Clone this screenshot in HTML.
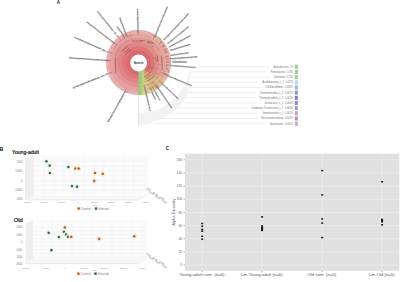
<!DOCTYPE html>
<html><head><meta charset="utf-8">
<style>
html,body{margin:0;padding:0;background:#fff;width:400px;height:282px;overflow:hidden}
svg{display:block;font-family:"Liberation Sans",sans-serif}
</style></head>
<body>
<svg width="400" height="282" viewBox="0 0 400 282">
<rect width="400" height="282" fill="#fff"/>
<text x="56.8" y="4.4" font-size="4.5" font-weight="bold" fill="#222">A</text>
<polygon points="189.62,67.98 190.39,69.91 190.68,71.82 190.51,73.68 190.27,75.53 189.96,77.38 189.58,79.23 189.14,81.07 189.12,83.09 189.01,85.13 188.82,87.19 188.55,89.27 188.20,91.35 187.50,93.28 186.73,95.20 185.89,97.10 184.97,98.99 183.98,100.85 182.67,102.46 181.30,104.02 179.87,105.54 178.39,107.02 176.86,108.43 175.28,109.80 173.65,111.11 171.97,112.37 170.25,113.57 168.48,114.71 166.68,115.78 164.83,116.80 162.95,117.75 161.04,118.63 159.09,119.45 157.18,120.41 155.23,121.29 153.24,122.12 151.21,122.87 149.15,123.56 147.05,124.17 144.93,124.72 142.78,125.19 140.60,125.58 138.40,125.90 138.40,112.90 140.16,112.90 141.91,112.83 143.67,112.71 145.42,112.52 147.16,112.28 148.89,111.97 150.62,111.60 152.33,111.17 154.02,110.68 155.70,110.14 157.36,109.53 159.00,108.86 160.61,108.14 162.20,107.37 163.76,106.53 165.30,105.64 166.80,104.70 168.27,103.71 169.70,102.66 171.10,101.57 172.46,100.43 173.78,99.23 175.06,98.00 176.29,96.72 177.48,95.39 178.62,94.03 179.72,92.62 180.76,91.17 181.76,89.69 182.70,88.18 183.59,86.63 184.43,85.05 185.21,83.44 185.94,81.81 186.61,80.15 187.22,78.46 187.77,76.76 188.26,75.03 188.69,73.29 189.06,71.53 189.37,69.76 189.62,67.98" fill="#f2f2f2"/>
<line x1="138.70000000000002" y1="94.5" x2="138.70000000000002" y2="126.8" stroke="#dadada" stroke-width="0.8"/>
<line x1="199.00" y1="66.75" x2="269.70" y2="66.75" stroke="#e0e0e0" stroke-width="0.6"/>
<text x="293.2" y="67.75" font-size="2.7" fill="#727272" text-anchor="end" textLength="3.0" lengthAdjust="spacingAndGlyphs">1%</text>
<text x="288.60" y="67.75" font-size="2.7" fill="#727272" text-anchor="end" textLength="14.9" lengthAdjust="spacingAndGlyphs">Actinobacteria</text>
<rect x="294.8" y="64.75" width="3" height="4.1" fill="#92c888" opacity="0.9"/>
<line x1="191.00" y1="71.92" x2="266.70" y2="71.92" stroke="#e0e0e0" stroke-width="0.6"/>
<text x="293.2" y="72.92" font-size="2.7" fill="#727272" text-anchor="end" textLength="6.0" lengthAdjust="spacingAndGlyphs">0.4%</text>
<text x="285.60" y="72.92" font-size="2.7" fill="#727272" text-anchor="end" textLength="14.9" lengthAdjust="spacingAndGlyphs">Proteobacteria</text>
<rect x="294.8" y="69.92" width="3" height="4.1" fill="#8fc685" opacity="0.9"/>
<line x1="191.00" y1="77.09" x2="269.70" y2="77.09" stroke="#e0e0e0" stroke-width="0.6"/>
<text x="293.2" y="78.09" font-size="2.7" fill="#727272" text-anchor="end" textLength="6.7" lengthAdjust="spacingAndGlyphs">0.15%</text>
<text x="284.90" y="78.09" font-size="2.7" fill="#727272" text-anchor="end" textLength="11.2" lengthAdjust="spacingAndGlyphs">Unknown</text>
<rect x="294.8" y="75.09" width="3" height="4.1" fill="#96c98c" opacity="0.9"/>
<line x1="188.00" y1="82.26" x2="258.20" y2="82.26" stroke="#e0e0e0" stroke-width="0.6"/>
<text x="293.2" y="83.26" font-size="2.7" fill="#727272" text-anchor="end" textLength="7.5" lengthAdjust="spacingAndGlyphs">0.07%</text>
<text x="284.10" y="83.26" font-size="2.7" fill="#727272" text-anchor="end" textLength="21.9" lengthAdjust="spacingAndGlyphs">Acidobacteria_c_1</text>
<rect x="294.8" y="80.26" width="3" height="4.1" fill="#a8d4e0" opacity="0.9"/>
<line x1="189.00" y1="87.43" x2="261.20" y2="87.43" stroke="#e0e0e0" stroke-width="0.6"/>
<text x="293.2" y="88.43" font-size="2.7" fill="#727272" text-anchor="end" textLength="8.2" lengthAdjust="spacingAndGlyphs">0.008%</text>
<text x="283.40" y="88.43" font-size="2.7" fill="#727272" text-anchor="end" textLength="18.2" lengthAdjust="spacingAndGlyphs">Chloroflexi</text>
<rect x="294.8" y="85.43" width="3" height="4.1" fill="#90acd4" opacity="0.9"/>
<line x1="188.00" y1="92.60" x2="255.80" y2="92.60" stroke="#e0e0e0" stroke-width="0.6"/>
<text x="293.2" y="93.60" font-size="2.7" fill="#727272" text-anchor="end" textLength="8.2" lengthAdjust="spacingAndGlyphs">0.007%</text>
<text x="283.40" y="93.60" font-size="2.7" fill="#727272" text-anchor="end" textLength="23.6" lengthAdjust="spacingAndGlyphs">Thermomicrobia_c_1</text>
<rect x="294.8" y="90.60" width="3" height="4.1" fill="#7c8cc8" opacity="0.9"/>
<line x1="185.00" y1="97.77" x2="255.20" y2="97.77" stroke="#e0e0e0" stroke-width="0.6"/>
<text x="293.2" y="98.77" font-size="2.7" fill="#727272" text-anchor="end" textLength="8.2" lengthAdjust="spacingAndGlyphs">0.005%</text>
<text x="283.40" y="98.77" font-size="2.7" fill="#727272" text-anchor="end" textLength="24.2" lengthAdjust="spacingAndGlyphs">Thermoleophilia_c_1</text>
<rect x="294.8" y="95.77" width="3" height="4.1" fill="#7a6cc0" opacity="0.9"/>
<line x1="183.50" y1="102.94" x2="260.70" y2="102.94" stroke="#e0e0e0" stroke-width="0.6"/>
<text x="293.2" y="103.94" font-size="2.7" fill="#727272" text-anchor="end" textLength="8.2" lengthAdjust="spacingAndGlyphs">0.004%</text>
<text x="283.40" y="103.94" font-size="2.7" fill="#727272" text-anchor="end" textLength="18.7" lengthAdjust="spacingAndGlyphs">Deinococci_c_1</text>
<rect x="294.8" y="100.94" width="3" height="4.1" fill="#8a78c4" opacity="0.9"/>
<line x1="177.50" y1="108.11" x2="247.20" y2="108.11" stroke="#e0e0e0" stroke-width="0.6"/>
<text x="293.2" y="109.11" font-size="2.7" fill="#727272" text-anchor="end" textLength="8.2" lengthAdjust="spacingAndGlyphs">0.003%</text>
<text x="283.40" y="109.11" font-size="2.7" fill="#727272" text-anchor="end" textLength="32.2" lengthAdjust="spacingAndGlyphs">Candidatus Tectomicrobia_c_1</text>
<rect x="294.8" y="106.11" width="3" height="4.1" fill="#a48cc8" opacity="0.9"/>
<line x1="170.00" y1="113.28" x2="258.50" y2="113.28" stroke="#e0e0e0" stroke-width="0.6"/>
<text x="293.2" y="114.28" font-size="2.7" fill="#727272" text-anchor="end" textLength="8.2" lengthAdjust="spacingAndGlyphs">0.002%</text>
<text x="283.40" y="114.28" font-size="2.7" fill="#727272" text-anchor="end" textLength="20.9" lengthAdjust="spacingAndGlyphs">Gemmatimonadetes_c_1</text>
<rect x="294.8" y="111.28" width="3" height="4.1" fill="#c490c8" opacity="0.9"/>
<line x1="161.00" y1="118.45" x2="257.00" y2="118.45" stroke="#e0e0e0" stroke-width="0.6"/>
<text x="293.2" y="119.45" font-size="2.7" fill="#727272" text-anchor="end" textLength="8.2" lengthAdjust="spacingAndGlyphs">0.002%</text>
<text x="283.40" y="119.45" font-size="2.7" fill="#727272" text-anchor="end" textLength="22.4" lengthAdjust="spacingAndGlyphs">Verrucomicrobiae</text>
<rect x="294.8" y="116.45" width="3" height="4.1" fill="#c07ca8" opacity="0.9"/>
<line x1="153.50" y1="123.62" x2="266.00" y2="123.62" stroke="#e0e0e0" stroke-width="0.6"/>
<text x="293.2" y="124.62" font-size="2.7" fill="#727272" text-anchor="end" textLength="8.2" lengthAdjust="spacingAndGlyphs">0.001%</text>
<text x="283.40" y="124.62" font-size="2.7" fill="#727272" text-anchor="end" textLength="13.4" lengthAdjust="spacingAndGlyphs">Spirochaetia</text>
<rect x="294.8" y="121.62" width="3" height="4.1" fill="#c89ab8" opacity="0.9"/>
<g>
<circle cx="138.4" cy="62.6" r="32.5" fill="#e9adaf"/>
<circle cx="138.4" cy="62.6" r="28.4" fill="#e5a0a2"/>
<circle cx="138.4" cy="62.6" r="24.4" fill="#e29294"/>
<circle cx="138.4" cy="62.6" r="20.3" fill="#df8487"/>
<circle cx="138.4" cy="62.6" r="16.2" fill="#dc7679"/>
<circle cx="138.4" cy="62.6" r="12.2" fill="#d9696d"/>
<path d="M141.23,42.45A20.35,20.35 0 0 1 156.02,72.77L152.39,70.67A16.15,16.15 0 0 0 140.65,46.61Z" fill="#df8c88" />
<path d="M141.80,38.39A24.45,24.45 0 0 1 159.57,74.82L155.94,72.72A20.25,20.25 0 0 0 141.22,42.55Z" fill="#e19c96" />
<path d="M142.36,34.43A28.45,28.45 0 0 1 163.04,76.82L159.49,74.77A24.349999999999998,24.349999999999998 0 0 0 141.79,38.49Z" fill="#e3a8a0" />
<path d="M142.93,30.37A32.55,32.55 0 0 1 166.59,78.88L162.95,76.77A28.349999999999998,28.349999999999998 0 0 0 142.35,34.53Z" fill="#e6b2aa" />
<path d="M130.56,35.25A28.45,28.45 0 0 1 138.40,34.15L138.40,38.25A24.349999999999998,24.349999999999998 0 0 0 131.69,39.19Z" fill="#e3a8a0" />
<path d="M138.40,34.15A28.45,28.45 0 0 1 142.41,34.43L141.83,38.49A24.349999999999998,24.349999999999998 0 0 0 138.40,38.25Z" fill="#e3a8a0" />
<path d="M129.43,31.31A32.55,32.55 0 0 1 138.41,30.05L138.40,34.25A28.349999999999998,28.349999999999998 0 0 0 130.59,35.35Z" fill="#e6b2aa" />
<path d="M138.40,30.05A32.55,32.55 0 0 1 142.99,30.37L142.39,34.53A28.349999999999998,28.349999999999998 0 0 0 138.40,34.25Z" fill="#e6b2aa" />
<path d="M146.91,71.41A12.25,12.25 0 0 1 142.59,74.11L141.15,70.16A8.049999999999999,8.049999999999999 0 0 0 143.99,68.39Z" fill="#cf9f72" />
<path d="M150.09,73.89A16.25,16.25 0 0 1 143.96,77.87L142.56,74.02A12.149999999999999,12.149999999999999 0 0 0 147.14,71.04Z" fill="#d4a878" />
<path d="M154.44,75.13A20.35,20.35 0 0 1 146.02,81.47L144.45,77.57A16.15,16.15 0 0 0 151.13,72.54Z" fill="#d8ae80" />
<path d="M158.18,76.97A24.45,24.45 0 0 1 147.56,85.27L145.99,81.38A20.25,20.25 0 0 0 154.78,74.50Z" fill="#dab484" />
<path d="M162.53,77.68A28.45,28.45 0 0 1 149.97,88.59L148.30,84.84A24.349999999999998,24.349999999999998 0 0 0 159.05,75.50Z" fill="#dcb98a" />
<path d="M166.30,79.36A32.55,32.55 0 0 1 151.64,92.34L149.93,88.50A28.349999999999998,28.349999999999998 0 0 0 162.70,77.20Z" fill="#dfbf94" />
<path d="M144.15,73.42A12.25,12.25 0 0 1 139.25,74.82L138.96,70.63A8.049999999999999,8.049999999999999 0 0 0 142.18,69.71Z" fill="#c8c070" />
<path d="M146.03,76.95A16.25,16.25 0 0 1 139.53,78.81L139.25,74.72A12.149999999999999,12.149999999999999 0 0 0 144.10,73.33Z" fill="#ccc478" />
<path d="M147.95,80.57A20.35,20.35 0 0 1 139.82,82.90L139.53,78.71A16.15,16.15 0 0 0 145.98,76.86Z" fill="#d0c880" />
<path d="M149.88,84.19A24.45,24.45 0 0 1 140.11,86.99L139.81,82.80A20.25,20.25 0 0 0 147.91,80.48Z" fill="#d4cc88" />
<path d="M151.76,87.72A28.45,28.45 0 0 1 140.38,90.98L140.10,86.89A24.349999999999998,24.349999999999998 0 0 0 149.83,84.10Z" fill="#d8d090" />
<path d="M153.68,91.34A32.55,32.55 0 0 1 140.67,95.07L140.38,90.88A28.349999999999998,28.349999999999998 0 0 0 151.71,87.63Z" fill="#dcd498" />
<path d="M148.51,69.42A12.2,12.2 0 0 1 142.57,74.06" fill="none" stroke="#8a6040" stroke-width="0.4" opacity="0.45"/>
<path d="M151.83,71.66A16.2,16.2 0 0 1 143.94,77.82" fill="none" stroke="#8a6040" stroke-width="0.4" opacity="0.45"/>
<path d="M155.23,73.95A20.3,20.3 0 0 1 145.34,81.68" fill="none" stroke="#8a6040" stroke-width="0.4" opacity="0.45"/>
<path d="M158.63,76.24A24.4,24.4 0 0 1 146.75,85.53" fill="none" stroke="#8a6040" stroke-width="0.4" opacity="0.45"/>
<path d="M161.94,78.48A28.4,28.4 0 0 1 148.11,89.29" fill="none" stroke="#8a6040" stroke-width="0.4" opacity="0.45"/>
<clipPath id="ann"><circle cx="138.4" cy="62.6" r="32.5"/></clipPath>
<linearGradient id="gg" x1="138.4" x2="143.4" y1="0" y2="0" gradientUnits="userSpaceOnUse"><stop offset="0" stop-color="#8ecb78"/><stop offset="0.45" stop-color="#9ccf7c"/><stop offset="1" stop-color="#c8d284"/></linearGradient>
<rect x="138.4" y="62.6" width="5.0" height="33.5" fill="url(#gg)" clip-path="url(#ann)"/>
<circle cx="138.4" cy="62.6" r="12.2" fill="none" stroke="#c96a6e" stroke-width="0.35" opacity="0.35"/>
<circle cx="138.4" cy="62.6" r="16.2" fill="none" stroke="#c96a6e" stroke-width="0.35" opacity="0.35"/>
<circle cx="138.4" cy="62.6" r="20.3" fill="none" stroke="#c96a6e" stroke-width="0.35" opacity="0.35"/>
<circle cx="138.4" cy="62.6" r="24.4" fill="none" stroke="#c96a6e" stroke-width="0.35" opacity="0.35"/>
<circle cx="138.4" cy="62.6" r="28.4" fill="none" stroke="#c96a6e" stroke-width="0.35" opacity="0.35"/>
<line x1="131.67" y1="39.15" x2="129.44" y2="31.36" stroke="#b8706a" stroke-width="0.35" opacity="0.55"/>
<line x1="146.75" y1="39.67" x2="149.52" y2="32.06" stroke="#b8706a" stroke-width="0.35" opacity="0.55"/>
<line x1="146.98" y1="44.20" x2="152.14" y2="33.14" stroke="#b8706a" stroke-width="0.35" opacity="0.55"/>
<line x1="154.08" y1="43.91" x2="159.29" y2="37.70" stroke="#b8706a" stroke-width="0.35" opacity="0.55"/>
<line x1="158.39" y1="48.60" x2="165.02" y2="43.96" stroke="#b8706a" stroke-width="0.35" opacity="0.55"/>
<line x1="164.14" y1="50.60" x2="167.86" y2="48.86" stroke="#b8706a" stroke-width="0.35" opacity="0.55"/>
<line x1="165.41" y1="53.82" x2="169.31" y2="52.56" stroke="#b8706a" stroke-width="0.35" opacity="0.55"/>
<line x1="162.43" y1="58.36" x2="170.41" y2="56.96" stroke="#b8706a" stroke-width="0.35" opacity="0.55"/>
<line x1="166.78" y1="61.61" x2="170.88" y2="61.47" stroke="#b8706a" stroke-width="0.35" opacity="0.55"/>
<line x1="158.62" y1="64.37" x2="170.78" y2="65.43" stroke="#b8706a" stroke-width="0.35" opacity="0.55"/>
<line x1="146.10" y1="65.10" x2="169.31" y2="72.64" stroke="#b8706a" stroke-width="0.35" opacity="0.55"/>
<line x1="145.55" y1="66.40" x2="167.10" y2="77.86" stroke="#b8706a" stroke-width="0.35" opacity="0.55"/>
<line x1="153.95" y1="75.65" x2="163.30" y2="83.49" stroke="#b8706a" stroke-width="0.35" opacity="0.55"/>
<line x1="154.08" y1="81.29" x2="159.29" y2="87.50" stroke="#b8706a" stroke-width="0.35" opacity="0.55"/>
<line x1="146.50" y1="76.63" x2="154.65" y2="90.75" stroke="#b8706a" stroke-width="0.35" opacity="0.55"/>
<line x1="146.75" y1="85.53" x2="149.52" y2="93.14" stroke="#b8706a" stroke-width="0.35" opacity="0.55"/>
<line x1="128.69" y1="89.29" x2="127.28" y2="93.14" stroke="#b8706a" stroke-width="0.35" opacity="0.55"/>
<line x1="119.71" y1="78.28" x2="113.50" y2="83.49" stroke="#b8706a" stroke-width="0.35" opacity="0.55"/>
<line x1="110.43" y1="67.53" x2="106.39" y2="68.24" stroke="#b8706a" stroke-width="0.35" opacity="0.55"/>
<line x1="120.82" y1="52.45" x2="110.25" y2="46.35" stroke="#b8706a" stroke-width="0.35" opacity="0.55"/>
<line x1="126.20" y1="41.47" x2="122.15" y2="34.45" stroke="#b8706a" stroke-width="0.35" opacity="0.55"/>
<line x1="131.05" y1="35.17" x2="129.99" y2="31.21" stroke="#b8706a" stroke-width="0.35" opacity="0.55"/>
<line x1="121.70" y1="51.00" x2="127.50" y2="46.80" stroke="#6a3030" stroke-width="0.7" opacity="0.55"/>
<line x1="123.80" y1="52.60" x2="129.70" y2="48.40" stroke="#6a3030" stroke-width="0.7" opacity="0.55"/>
<line x1="125.40" y1="54.20" x2="131.30" y2="50.00" stroke="#6a3030" stroke-width="0.7" opacity="0.55"/>
<line x1="132.00" y1="41.00" x2="142.50" y2="41.00" stroke="#6a3030" stroke-width="0.7" opacity="0.55"/>
<line x1="146.50" y1="41.50" x2="153.00" y2="43.60" stroke="#6a3030" stroke-width="0.7" opacity="0.55"/>
<line x1="154.50" y1="57.00" x2="157.20" y2="62.00" stroke="#6a3030" stroke-width="0.7" opacity="0.55"/>
<line x1="161.50" y1="55.60" x2="162.50" y2="70.00" stroke="#6a3030" stroke-width="0.7" opacity="0.55"/>
<line x1="115.40" y1="57.40" x2="115.60" y2="73.40" stroke="#6a3030" stroke-width="0.7" opacity="0.55"/>
<line x1="144.00" y1="77.00" x2="150.80" y2="72.50" stroke="#6a3030" stroke-width="0.7" opacity="0.55"/>
<line x1="145.10" y1="79.30" x2="153.00" y2="74.20" stroke="#6a3030" stroke-width="0.7" opacity="0.55"/>
<line x1="146.80" y1="81.60" x2="155.30" y2="75.90" stroke="#6a3030" stroke-width="0.7" opacity="0.55"/>
<line x1="150.00" y1="66.80" x2="152.50" y2="68.50" stroke="#6a3030" stroke-width="0.7" opacity="0.55"/>
<line x1="161.00" y1="72.00" x2="168.40" y2="75.30" stroke="#6a3030" stroke-width="0.7" opacity="0.55"/>
<line x1="166.00" y1="66.80" x2="169.50" y2="72.50" stroke="#6a3030" stroke-width="0.7" opacity="0.55"/>
<line x1="147.60" y1="42.20" x2="150.00" y2="43.40" stroke="#6a3030" stroke-width="0.7" opacity="0.55"/>
<line x1="151.30" y1="45.90" x2="153.70" y2="47.00" stroke="#6a3030" stroke-width="0.7" opacity="0.55"/>
<line x1="157.30" y1="55.50" x2="157.90" y2="61.00" stroke="#6a3030" stroke-width="0.7" opacity="0.55"/>
<line x1="148.00" y1="84.00" x2="152.00" y2="90.00" stroke="#6a3030" stroke-width="0.7" opacity="0.55"/>
<line x1="152.00" y1="82.00" x2="157.00" y2="88.00" stroke="#6a3030" stroke-width="0.7" opacity="0.55"/>
<line x1="150.00" y1="40.80" x2="153.70" y2="43.30" stroke="#6a3030" stroke-width="0.7" opacity="0.55"/>
<line x1="159.00" y1="37.80" x2="161.00" y2="39.60" stroke="#6a3030" stroke-width="0.7" opacity="0.55"/>
<line x1="160.30" y1="40.80" x2="162.70" y2="43.30" stroke="#6a3030" stroke-width="0.7" opacity="0.55"/>
<line x1="162.70" y1="44.50" x2="164.50" y2="46.90" stroke="#6a3030" stroke-width="0.7" opacity="0.55"/>
<line x1="165.00" y1="50.00" x2="167.00" y2="52.30" stroke="#6a3030" stroke-width="0.7" opacity="0.55"/>
<line x1="140.40" y1="40.80" x2="145.20" y2="40.80" stroke="#6a3030" stroke-width="0.7" opacity="0.55"/>
<line x1="152.50" y1="34.80" x2="154.30" y2="36.60" stroke="#6a3030" stroke-width="0.7" opacity="0.55"/>
<path d="M114.83,56.28A24.4,24.4 0 0 1 128.09,40.49" fill="none" stroke="#7a3a3a" stroke-width="0.5" opacity="0.35"/>
<path d="M113.80,48.40A28.4,28.4 0 0 1 133.47,34.63" fill="none" stroke="#7a3a3a" stroke-width="0.5" opacity="0.3"/>
<path d="M120.82,52.45A20.3,20.3 0 0 1 128.25,45.02" fill="none" stroke="#7a3a3a" stroke-width="0.5" opacity="0.3"/>
<path d="M146.75,39.67A24.4,24.4 0 0 1 159.53,50.40" fill="none" stroke="#7a3a3a" stroke-width="0.5" opacity="0.3"/>
</g>
<circle cx="138.6" cy="63.0" r="8.4" fill="#fff"/>
<text x="138.55" y="63.75" font-size="3.0" text-anchor="middle" fill="#1a2a40" font-weight="bold" textLength="9.3" lengthAdjust="spacingAndGlyphs">Bacteria</text>
<line x1="112.20" y1="53.30" x2="109.00" y2="52.16" stroke="#7a4040" stroke-width="0.8" opacity="0.55"/>
<line x1="74.40" y1="37.20" x2="107.95" y2="51.92" stroke="#969696" stroke-width="0.8" />
<text x="0" y="0.95" font-size="2.8" fill="#5a5a5a" textLength="37.3" lengthAdjust="spacingAndGlyphs" transform="translate(74.40,37.20) rotate(23.7)">Lachnospiraceae_g_1</text>
<line x1="116.79" y1="45.11" x2="114.15" y2="42.97" stroke="#7a4040" stroke-width="0.8" opacity="0.55"/>
<line x1="86.80" y1="22.00" x2="114.13" y2="42.89" stroke="#969696" stroke-width="0.8" />
<text x="0" y="0.95" font-size="2.8" fill="#5a5a5a" textLength="35.1" lengthAdjust="spacingAndGlyphs" transform="translate(86.80,22.00) rotate(37.4)">Ruminococcaceae</text>
<line x1="121.17" y1="40.78" x2="119.06" y2="38.11" stroke="#7a4040" stroke-width="0.8" opacity="0.55"/>
<line x1="97.50" y1="11.30" x2="118.13" y2="36.90" stroke="#969696" stroke-width="0.8" />
<text x="0" y="0.95" font-size="2.8" fill="#5a5a5a" textLength="33.6" lengthAdjust="spacingAndGlyphs" transform="translate(97.50,11.30) rotate(51.1)">Clostridiales_f_1</text>
<line x1="127.35" y1="37.09" x2="126.00" y2="33.97" stroke="#7a4040" stroke-width="0.8" opacity="0.55"/>
<line x1="119.80" y1="17.70" x2="126.44" y2="35.18" stroke="#969696" stroke-width="0.8" />
<text x="0" y="0.95" font-size="2.8" fill="#5a5a5a" textLength="19.4" lengthAdjust="spacingAndGlyphs" transform="translate(119.80,17.70) rotate(69.2)">Bacteroidales</text>
<line x1="124.87" y1="38.31" x2="123.22" y2="35.34" stroke="#7a4040" stroke-width="0.8" opacity="0.55"/>
<line x1="117.00" y1="26.60" x2="123.38" y2="35.14" stroke="#969696" stroke-width="0.8" />
<text x="0" y="0.95" font-size="2.8" fill="#5a5a5a" textLength="11.4" lengthAdjust="spacingAndGlyphs" transform="translate(117.00,26.60) rotate(53.3)">Erysipelotrichaceae</text>
<line x1="138.14" y1="34.80" x2="138.11" y2="31.40" stroke="#7a4040" stroke-width="0.8" opacity="0.55"/>
<line x1="137.60" y1="8.90" x2="138.14" y2="32.00" stroke="#969696" stroke-width="0.8" />
<text x="0" y="0.95" font-size="2.8" fill="#5a5a5a" textLength="23.8" lengthAdjust="spacingAndGlyphs" transform="translate(137.60,8.90) rotate(88.7)">Lactobacillaceae</text>
<line x1="153.04" y1="38.97" x2="154.83" y2="36.08" stroke="#7a4040" stroke-width="0.8" opacity="0.55"/>
<line x1="167.20" y1="6.40" x2="154.82" y2="36.67" stroke="#969696" stroke-width="0.8" />
<text x="0" y="0.95" font-size="2.8" fill="#5a5a5a" textLength="33.4" lengthAdjust="spacingAndGlyphs" transform="translate(154.55,37.31) rotate(-67.8)">Streptococcaceae</text>
<line x1="159.10" y1="44.04" x2="161.63" y2="41.77" stroke="#7a4040" stroke-width="0.8" opacity="0.55"/>
<line x1="188.50" y1="13.50" x2="164.28" y2="39.62" stroke="#969696" stroke-width="0.8" />
<text x="0" y="0.95" font-size="2.8" fill="#5a5a5a" textLength="36.3" lengthAdjust="spacingAndGlyphs" transform="translate(163.80,40.13) rotate(-47.2)">Enterobacteriaceae</text>
<line x1="161.64" y1="47.34" x2="164.48" y2="45.47" stroke="#7a4040" stroke-width="0.8" opacity="0.55"/>
<line x1="188.50" y1="26.60" x2="167.60" y2="43.64" stroke="#969696" stroke-width="0.8" />
<text x="0" y="0.95" font-size="2.8" fill="#5a5a5a" textLength="27.7" lengthAdjust="spacingAndGlyphs" transform="translate(167.06,44.08) rotate(-39.2)">Porphyromonadaceae</text>
<line x1="163.17" y1="49.98" x2="166.20" y2="48.44" stroke="#7a4040" stroke-width="0.8" opacity="0.55"/>
<line x1="190.30" y1="35.50" x2="169.22" y2="46.96" stroke="#969696" stroke-width="0.8" />
<text x="0" y="0.95" font-size="2.8" fill="#5a5a5a" textLength="24.7" lengthAdjust="spacingAndGlyphs" transform="translate(168.60,47.29) rotate(-28.5)">Prevotellaceae</text>
<line x1="164.38" y1="52.70" x2="167.55" y2="51.49" stroke="#7a4040" stroke-width="0.8" opacity="0.55"/>
<line x1="190.30" y1="44.30" x2="170.77" y2="50.11" stroke="#969696" stroke-width="0.8" />
<text x="0" y="0.95" font-size="2.8" fill="#5a5a5a" textLength="21.1" lengthAdjust="spacingAndGlyphs" transform="translate(170.10,50.31) rotate(-16.6)">Bacteroidaceae</text>
<line x1="165.53" y1="56.55" x2="168.85" y2="55.81" stroke="#7a4040" stroke-width="0.8" opacity="0.55"/>
<line x1="188.50" y1="52.50" x2="170.72" y2="55.28" stroke="#969696" stroke-width="0.8" />
<text x="0" y="0.95" font-size="2.8" fill="#5a5a5a" textLength="18.7" lengthAdjust="spacingAndGlyphs" transform="translate(170.03,55.39) rotate(-8.9)">Rikenellaceae</text>
<line x1="166.00" y1="59.28" x2="169.38" y2="58.88" stroke="#7a4040" stroke-width="0.8" opacity="0.55"/>
<line x1="197.40" y1="56.70" x2="170.70" y2="58.63" stroke="#969696" stroke-width="0.8" />
<text x="0" y="0.95" font-size="2.8" fill="#5a5a5a" textLength="27.5" lengthAdjust="spacingAndGlyphs" transform="translate(170.01,58.68) rotate(-4.1)">Peptostreptococcaceae</text>
<line x1="166.20" y1="62.14" x2="169.60" y2="62.08" stroke="#7a4040" stroke-width="0.8" opacity="0.55"/>
<line x1="186.70" y1="62.00" x2="172.50" y2="62.00" stroke="#969696" stroke-width="0.8" />
<text x="0" y="0.95" font-size="2.8" fill="#5a5a5a" textLength="14.9" lengthAdjust="spacingAndGlyphs" transform="translate(171.80,62.00) rotate(0.0)">Veillonellaceae</text>
<line x1="166.09" y1="65.04" x2="169.48" y2="65.33" stroke="#7a4040" stroke-width="0.8" opacity="0.55"/>
<line x1="195.60" y1="67.40" x2="170.71" y2="65.46" stroke="#969696" stroke-width="0.8" />
<text x="0" y="0.95" font-size="2.8" fill="#5a5a5a" textLength="25.7" lengthAdjust="spacingAndGlyphs" transform="translate(170.01,65.41) rotate(4.5)">Desulfovibrionaceae</text>
<line x1="163.81" y1="73.88" x2="166.92" y2="75.25" stroke="#7a4040" stroke-width="0.8" opacity="0.55"/>
<line x1="191.80" y1="85.60" x2="167.84" y2="75.71" stroke="#969696" stroke-width="0.8" />
<text x="0" y="0.95" font-size="2.8" fill="#5a5a5a" textLength="26.6" lengthAdjust="spacingAndGlyphs" transform="translate(167.19,75.45) rotate(22.4)">Helicobacteraceae</text>
<line x1="159.24" y1="81.00" x2="161.79" y2="83.25" stroke="#7a4040" stroke-width="0.8" opacity="0.55"/>
<line x1="178.30" y1="98.70" x2="161.79" y2="83.17" stroke="#969696" stroke-width="0.8" />
<text x="0" y="0.95" font-size="2.8" fill="#5a5a5a" textLength="23.4" lengthAdjust="spacingAndGlyphs" transform="translate(161.28,82.69) rotate(43.3)">Coriobacteriaceae</text>
<line x1="155.42" y1="84.58" x2="157.50" y2="87.27" stroke="#7a4040" stroke-width="0.8" opacity="0.55"/>
<line x1="171.90" y1="108.00" x2="157.28" y2="86.82" stroke="#969696" stroke-width="0.8" />
<text x="0" y="0.95" font-size="2.8" fill="#5a5a5a" textLength="26.4" lengthAdjust="spacingAndGlyphs" transform="translate(156.88,86.24) rotate(55.4)">Bifidobacteriaceae</text>
<line x1="150.02" y1="87.86" x2="151.44" y2="90.94" stroke="#7a4040" stroke-width="0.8" opacity="0.55"/>
<line x1="155.20" y1="99.50" x2="152.09" y2="92.25" stroke="#969696" stroke-width="0.8" />
<text x="0" y="0.95" font-size="2.8" fill="#5a5a5a" textLength="8.6" lengthAdjust="spacingAndGlyphs" transform="translate(151.82,91.60) rotate(66.8)">Deferribacteraceae</text>
<line x1="152.29" y1="86.68" x2="153.99" y2="89.62" stroke="#7a4040" stroke-width="0.8" opacity="0.55"/>
<line x1="160.00" y1="100.30" x2="155.13" y2="91.53" stroke="#969696" stroke-width="0.8" />
<text x="0" y="0.95" font-size="2.8" fill="#5a5a5a" textLength="10.7" lengthAdjust="spacingAndGlyphs" transform="translate(154.79,90.91) rotate(60.9)">Mycoplasmataceae</text>
<line x1="145.32" y1="89.52" x2="146.17" y2="92.82" stroke="#7a4040" stroke-width="0.8" opacity="0.55"/>
<line x1="150.40" y1="111.10" x2="144.38" y2="85.75" stroke="#969696" stroke-width="0.8" />
<text x="0" y="0.95" font-size="2.8" fill="#5a5a5a" textLength="26.8" lengthAdjust="spacingAndGlyphs" transform="translate(144.22,85.07) rotate(76.7)">Lachnospiraceae_g_1</text>
<line x1="110.67" y1="60.63" x2="107.28" y2="60.38" stroke="#7a4040" stroke-width="0.8" opacity="0.55"/>
<line x1="69.10" y1="57.80" x2="107.90" y2="60.42" stroke="#969696" stroke-width="0.8" />
<text x="0" y="0.95" font-size="2.8" fill="#5a5a5a" textLength="39.6" lengthAdjust="spacingAndGlyphs" transform="translate(69.10,57.80) rotate(3.9)">Ruminococcaceae</text>
<line x1="112.31" y1="72.21" x2="109.12" y2="73.39" stroke="#7a4040" stroke-width="0.8" opacity="0.55"/>
<line x1="72.60" y1="88.00" x2="107.77" y2="73.83" stroke="#969696" stroke-width="0.8" />
<text x="0" y="0.95" font-size="2.8" fill="#5a5a5a" textLength="38.6" lengthAdjust="spacingAndGlyphs" transform="translate(72.60,88.00) rotate(-21.9)">Clostridiales_f_1</text>
<line x1="126.70" y1="87.82" x2="125.27" y2="90.90" stroke="#7a4040" stroke-width="0.8" opacity="0.55"/>
<line x1="108.00" y1="122.00" x2="125.18" y2="91.43" stroke="#969696" stroke-width="0.8" />
<text x="0" y="0.95" font-size="2.8" fill="#5a5a5a" textLength="35.8" lengthAdjust="spacingAndGlyphs" transform="translate(108.00,122.00) rotate(-60.7)">Bacteroidales</text>
<text x="-0.5" y="150.6" font-size="5.4" fill="#111" text-anchor="start" font-weight="bold">B</text>
<text x="12.1" y="154.0" font-size="5.9" fill="#111" text-anchor="start" textLength="26.8" lengthAdjust="spacingAndGlyphs" stroke="#222" stroke-width="0.22">Young-adult</text>
<polygon points="33.7,155.5 148.4,155.5 148.4,196 33.7,196" fill="#fbfbfb"/>
<polygon points="25,158.5 33.7,155.5 33.7,196 25,200" fill="#eeeeee"/>
<polygon points="25,200 33.7,196 148.4,196 140.4,200" fill="#f6f6f6"/>
<line x1="33.7" x2="148.4" y1="161.3" y2="161.3" stroke="#efefef" stroke-width="0.45"/>
<line x1="25" x2="33.7" y1="164.44" y2="161.3" stroke="#f0f0f0" stroke-width="0.4"/>
<line x1="33.7" x2="148.4" y1="166" y2="166" stroke="#efefef" stroke-width="0.45"/>
<line x1="25" x2="33.7" y1="169.26" y2="166" stroke="#f0f0f0" stroke-width="0.4"/>
<line x1="33.7" x2="148.4" y1="170.9" y2="170.9" stroke="#efefef" stroke-width="0.45"/>
<line x1="25" x2="33.7" y1="174.28" y2="170.9" stroke="#f0f0f0" stroke-width="0.4"/>
<line x1="33.7" x2="148.4" y1="175.6" y2="175.6" stroke="#efefef" stroke-width="0.45"/>
<line x1="25" x2="33.7" y1="179.10" y2="175.6" stroke="#f0f0f0" stroke-width="0.4"/>
<line x1="33.7" x2="148.4" y1="180.6" y2="180.6" stroke="#efefef" stroke-width="0.45"/>
<line x1="25" x2="33.7" y1="184.22" y2="180.6" stroke="#f0f0f0" stroke-width="0.4"/>
<line x1="33.7" x2="148.4" y1="185.3" y2="185.3" stroke="#efefef" stroke-width="0.45"/>
<line x1="25" x2="33.7" y1="189.04" y2="185.3" stroke="#f0f0f0" stroke-width="0.4"/>
<line x1="33.7" x2="148.4" y1="190" y2="190" stroke="#efefef" stroke-width="0.45"/>
<line x1="25" x2="33.7" y1="193.85" y2="190" stroke="#f0f0f0" stroke-width="0.4"/>
<line x1="33.7" x2="33.7" y1="155.5" y2="196" stroke="#f0f0f0" stroke-width="0.45"/>
<line x1="44" x2="44" y1="155.5" y2="196" stroke="#f0f0f0" stroke-width="0.45"/>
<line x1="54" x2="54" y1="155.5" y2="196" stroke="#f0f0f0" stroke-width="0.45"/>
<line x1="64" x2="64" y1="155.5" y2="196" stroke="#f0f0f0" stroke-width="0.45"/>
<line x1="74" x2="74" y1="155.5" y2="196" stroke="#f0f0f0" stroke-width="0.45"/>
<line x1="84" x2="84" y1="155.5" y2="196" stroke="#f0f0f0" stroke-width="0.45"/>
<line x1="94" x2="94" y1="155.5" y2="196" stroke="#f0f0f0" stroke-width="0.45"/>
<line x1="104" x2="104" y1="155.5" y2="196" stroke="#f0f0f0" stroke-width="0.45"/>
<line x1="114" x2="114" y1="155.5" y2="196" stroke="#f0f0f0" stroke-width="0.45"/>
<line x1="124" x2="124" y1="155.5" y2="196" stroke="#f0f0f0" stroke-width="0.45"/>
<line x1="133.6" x2="133.6" y1="155.5" y2="196" stroke="#f0f0f0" stroke-width="0.45"/>
<line x1="145.4" x2="145.4" y1="155.5" y2="196" stroke="#f0f0f0" stroke-width="0.45"/>
<line x1="25" y1="200" x2="140.4" y2="200" stroke="#d8d8d8" stroke-width="0.45"/>
<text x="22.5" y="162.70000000000002" font-size="2.6" fill="#7a7a7a" text-anchor="end" >2000</text>
<text x="22.5" y="172.4" font-size="2.6" fill="#7a7a7a" text-anchor="end" >10000</text>
<text x="22.5" y="181.5" font-size="2.6" fill="#7a7a7a" text-anchor="end" >0</text>
<text x="22.5" y="190.9" font-size="2.6" fill="#7a7a7a" text-anchor="end" >-10000</text>
<text x="22.5" y="200.20000000000002" font-size="2.6" fill="#7a7a7a" text-anchor="end" >-2000</text>
<text x="27" y="203.4" font-size="2.5" fill="#8c8c8c" text-anchor="middle" >-30000</text>
<text x="44" y="203.4" font-size="2.5" fill="#8c8c8c" text-anchor="middle" >-20000</text>
<text x="61" y="203.4" font-size="2.5" fill="#8c8c8c" text-anchor="middle" >-10000</text>
<text x="77.7" y="203.4" font-size="2.5" fill="#8c8c8c" text-anchor="middle" >0</text>
<text x="94.2" y="203.4" font-size="2.5" fill="#8c8c8c" text-anchor="middle" >10000</text>
<text x="111.4" y="203.4" font-size="2.5" fill="#8c8c8c" text-anchor="middle" >20000</text>
<text x="128.7" y="203.4" font-size="2.5" fill="#8c8c8c" text-anchor="middle" >30000</text>
<text x="145.3" y="203.4" font-size="2.5" fill="#8c8c8c" text-anchor="middle" >40000</text>
<text x="94.2" y="206.0" font-size="2.3" fill="#8a8a8a" text-anchor="middle" >PC1</text>
<text x="0" y="0" font-size="2.8" fill="#7e7e7e" textLength="5.4" lengthAdjust="spacingAndGlyphs" transform="translate(145.63,189.09) rotate(30)">-20000</text>
<text x="0" y="0" font-size="2.8" fill="#7e7e7e" textLength="5.4" lengthAdjust="spacingAndGlyphs" transform="translate(148.16,192.56) rotate(30)">-10000</text>
<text x="0" y="0" font-size="2.8" fill="#7e7e7e" textLength="5.4" lengthAdjust="spacingAndGlyphs" transform="translate(152.33,193.49) rotate(30)">0</text>
<text x="0" y="0" font-size="2.8" fill="#7e7e7e" textLength="5.4" lengthAdjust="spacingAndGlyphs" transform="translate(154.86,196.96) rotate(30)">10000</text>
<text x="0" y="0" font-size="2.8" fill="#7e7e7e" textLength="5.4" lengthAdjust="spacingAndGlyphs" transform="translate(159.03,197.89) rotate(30)">20000</text>
<text x="0" y="0" font-size="2.8" fill="#7e7e7e" textLength="5.4" lengthAdjust="spacingAndGlyphs" transform="translate(161.56,201.36) rotate(30)">30000</text>
<circle cx="46.4" cy="161.3" r="2.6" fill="#e6f3e8" opacity="0.85"/><circle cx="46.4" cy="161.3" r="1.35" fill="#5a8a6a"/><circle cx="46.4" cy="161.3" r="0.9" fill="#3c584a"/>
<circle cx="49.7" cy="165.6" r="2.6" fill="#e6f3e8" opacity="0.85"/><circle cx="49.7" cy="165.6" r="1.35" fill="#5a8a6a"/><circle cx="49.7" cy="165.6" r="0.9" fill="#3c584a"/>
<circle cx="49.9" cy="173" r="2.6" fill="#e6f3e8" opacity="0.85"/><circle cx="49.9" cy="173" r="1.35" fill="#5a8a6a"/><circle cx="49.9" cy="173" r="0.9" fill="#3c584a"/>
<circle cx="68.4" cy="167" r="2.6" fill="#e6f3e8" opacity="0.85"/><circle cx="68.4" cy="167" r="1.35" fill="#5a8a6a"/><circle cx="68.4" cy="167" r="0.9" fill="#3c584a"/>
<circle cx="72" cy="186.1" r="2.6" fill="#e6f3e8" opacity="0.85"/><circle cx="72" cy="186.1" r="1.35" fill="#5a8a6a"/><circle cx="72" cy="186.1" r="0.9" fill="#3c584a"/>
<circle cx="77" cy="186.7" r="2.6" fill="#e6f3e8" opacity="0.85"/><circle cx="77" cy="186.7" r="1.35" fill="#5a8a6a"/><circle cx="77" cy="186.7" r="0.9" fill="#3c584a"/>
<circle cx="75.4" cy="168.5" r="2.6" fill="#fde8d0" opacity="0.85"/><circle cx="75.4" cy="168.5" r="1.35" fill="#d49050"/><circle cx="75.4" cy="168.5" r="0.9" fill="#7e6046"/>
<circle cx="78.7" cy="168.5" r="2.6" fill="#fde8d0" opacity="0.85"/><circle cx="78.7" cy="168.5" r="1.35" fill="#d49050"/><circle cx="78.7" cy="168.5" r="0.9" fill="#7e6046"/>
<circle cx="95" cy="173" r="2.6" fill="#fde8d0" opacity="0.85"/><circle cx="95" cy="173" r="1.35" fill="#d49050"/><circle cx="95" cy="173" r="0.9" fill="#7e6046"/>
<circle cx="102.8" cy="173.8" r="2.6" fill="#fde8d0" opacity="0.85"/><circle cx="102.8" cy="173.8" r="1.35" fill="#d49050"/><circle cx="102.8" cy="173.8" r="0.9" fill="#7e6046"/>
<circle cx="94.2" cy="180.9" r="2.6" fill="#fde8d0" opacity="0.85"/><circle cx="94.2" cy="180.9" r="1.35" fill="#d49050"/><circle cx="94.2" cy="180.9" r="0.9" fill="#7e6046"/>
<circle cx="78.7" cy="208.5" r="2.6" fill="#fde8d0" opacity="0.85"/><circle cx="78.7" cy="208.5" r="1.35" fill="#d49050"/><circle cx="78.7" cy="208.5" r="0.9" fill="#7e6046"/>
<text x="81" y="209.5" font-size="2.7" fill="#777" text-anchor="start" textLength="10" lengthAdjust="spacingAndGlyphs">Control</text>
<circle cx="96" cy="208.5" r="2.6" fill="#e6f3e8" opacity="0.85"/><circle cx="96" cy="208.5" r="1.35" fill="#5a8a6a"/><circle cx="96" cy="208.5" r="0.9" fill="#3c584a"/>
<text x="98.6" y="209.5" font-size="2.7" fill="#777" text-anchor="start" textLength="10" lengthAdjust="spacingAndGlyphs">Infected</text>
<text x="13.7" y="222.2" font-size="5.8" fill="#111" text-anchor="start" textLength="9.0" lengthAdjust="spacingAndGlyphs" stroke="#222" stroke-width="0.22">Old</text>
<polygon points="32.7,220.2 147.6,220.2 147.6,259 32.7,259" fill="#fbfbfb"/>
<polygon points="25.6,223.2 32.7,220.2 32.7,259 25.6,263.7" fill="#eeeeee"/>
<polygon points="25.6,263.7 32.7,259 147.6,259 139.6,263.7" fill="#f6f6f6"/>
<line x1="32.7" x2="147.6" y1="227.4" y2="227.4" stroke="#efefef" stroke-width="0.45"/>
<line x1="25.6" x2="32.7" y1="230.72" y2="227.4" stroke="#f0f0f0" stroke-width="0.4"/>
<line x1="32.7" x2="147.6" y1="231" y2="231" stroke="#efefef" stroke-width="0.45"/>
<line x1="25.6" x2="32.7" y1="234.47" y2="231" stroke="#f0f0f0" stroke-width="0.4"/>
<line x1="32.7" x2="147.6" y1="234.8" y2="234.8" stroke="#efefef" stroke-width="0.45"/>
<line x1="25.6" x2="32.7" y1="238.44" y2="234.8" stroke="#f0f0f0" stroke-width="0.4"/>
<line x1="32.7" x2="147.6" y1="238.5" y2="238.5" stroke="#efefef" stroke-width="0.45"/>
<line x1="25.6" x2="32.7" y1="242.30" y2="238.5" stroke="#f0f0f0" stroke-width="0.4"/>
<line x1="32.7" x2="147.6" y1="242.2" y2="242.2" stroke="#efefef" stroke-width="0.45"/>
<line x1="25.6" x2="32.7" y1="246.16" y2="242.2" stroke="#f0f0f0" stroke-width="0.4"/>
<line x1="32.7" x2="147.6" y1="246" y2="246" stroke="#efefef" stroke-width="0.45"/>
<line x1="25.6" x2="32.7" y1="250.13" y2="246" stroke="#f0f0f0" stroke-width="0.4"/>
<line x1="32.7" x2="147.6" y1="249.6" y2="249.6" stroke="#efefef" stroke-width="0.45"/>
<line x1="25.6" x2="32.7" y1="253.89" y2="249.6" stroke="#f0f0f0" stroke-width="0.4"/>
<line x1="32.7" x2="147.6" y1="253.4" y2="253.4" stroke="#efefef" stroke-width="0.45"/>
<line x1="25.6" x2="32.7" y1="257.85" y2="253.4" stroke="#f0f0f0" stroke-width="0.4"/>
<line x1="32.7" x2="147.6" y1="257.3" y2="257.3" stroke="#efefef" stroke-width="0.45"/>
<line x1="25.6" x2="32.7" y1="261.93" y2="257.3" stroke="#f0f0f0" stroke-width="0.4"/>
<line x1="32.7" x2="32.7" y1="220.2" y2="259" stroke="#f0f0f0" stroke-width="0.45"/>
<line x1="42" x2="42" y1="220.2" y2="259" stroke="#f0f0f0" stroke-width="0.45"/>
<line x1="52" x2="52" y1="220.2" y2="259" stroke="#f0f0f0" stroke-width="0.45"/>
<line x1="62" x2="62" y1="220.2" y2="259" stroke="#f0f0f0" stroke-width="0.45"/>
<line x1="72" x2="72" y1="220.2" y2="259" stroke="#f0f0f0" stroke-width="0.45"/>
<line x1="82" x2="82" y1="220.2" y2="259" stroke="#f0f0f0" stroke-width="0.45"/>
<line x1="92" x2="92" y1="220.2" y2="259" stroke="#f0f0f0" stroke-width="0.45"/>
<line x1="102" x2="102" y1="220.2" y2="259" stroke="#f0f0f0" stroke-width="0.45"/>
<line x1="112" x2="112" y1="220.2" y2="259" stroke="#f0f0f0" stroke-width="0.45"/>
<line x1="122" x2="122" y1="220.2" y2="259" stroke="#f0f0f0" stroke-width="0.45"/>
<line x1="132" x2="132" y1="220.2" y2="259" stroke="#f0f0f0" stroke-width="0.45"/>
<line x1="142" x2="142" y1="220.2" y2="259" stroke="#f0f0f0" stroke-width="0.45"/>
<line x1="25.6" y1="263.7" x2="139.6" y2="263.7" stroke="#d8d8d8" stroke-width="0.45"/>
<text x="22.3" y="228.3" font-size="2.6" fill="#7a7a7a" text-anchor="end" >2000</text>
<text x="22.3" y="235.70000000000002" font-size="2.6" fill="#7a7a7a" text-anchor="end" >1000</text>
<text x="22.3" y="243.1" font-size="2.6" fill="#7a7a7a" text-anchor="end" >0</text>
<text x="22.3" y="250.5" font-size="2.6" fill="#7a7a7a" text-anchor="end" >-1000</text>
<text x="22.3" y="258.2" font-size="2.6" fill="#7a7a7a" text-anchor="end" >-2000</text>
<text x="22.3" y="265.4" font-size="2.6" fill="#7a7a7a" text-anchor="end" >-3000</text>
<text x="25.6" y="268.6" font-size="2.5" fill="#8c8c8c" text-anchor="middle" >-20000</text>
<text x="45.5" y="268.6" font-size="2.5" fill="#8c8c8c" text-anchor="middle" >-10000</text>
<text x="65.5" y="268.6" font-size="2.5" fill="#8c8c8c" text-anchor="middle" >0</text>
<text x="84.3" y="268.6" font-size="2.5" fill="#8c8c8c" text-anchor="middle" >10000</text>
<text x="104.2" y="268.6" font-size="2.5" fill="#8c8c8c" text-anchor="middle" >20000</text>
<text x="123.4" y="268.6" font-size="2.5" fill="#8c8c8c" text-anchor="middle" >30000</text>
<text x="142.5" y="268.6" font-size="2.5" fill="#8c8c8c" text-anchor="middle" >40000</text>
<text x="94.5" y="271.0" font-size="2.3" fill="#8a8a8a" text-anchor="middle" >PC1</text>
<text x="0" y="0" font-size="2.8" fill="#7e7e7e" textLength="5.4" lengthAdjust="spacingAndGlyphs" transform="translate(145.63,254.29) rotate(30)">-20000</text>
<text x="0" y="0" font-size="2.8" fill="#7e7e7e" textLength="5.4" lengthAdjust="spacingAndGlyphs" transform="translate(148.16,257.67) rotate(30)">-10000</text>
<text x="0" y="0" font-size="2.8" fill="#7e7e7e" textLength="5.4" lengthAdjust="spacingAndGlyphs" transform="translate(152.33,258.49) rotate(30)">0</text>
<text x="0" y="0" font-size="2.8" fill="#7e7e7e" textLength="5.4" lengthAdjust="spacingAndGlyphs" transform="translate(154.86,261.87) rotate(30)">10000</text>
<text x="0" y="0" font-size="2.8" fill="#7e7e7e" textLength="5.4" lengthAdjust="spacingAndGlyphs" transform="translate(159.03,262.69) rotate(30)">20000</text>
<text x="0" y="0" font-size="2.8" fill="#7e7e7e" textLength="5.4" lengthAdjust="spacingAndGlyphs" transform="translate(161.56,266.06) rotate(30)">30000</text>
<circle cx="48.7" cy="232.8" r="2.6" fill="#e6f3e8" opacity="0.85"/><circle cx="48.7" cy="232.8" r="1.35" fill="#5a8a6a"/><circle cx="48.7" cy="232.8" r="0.9" fill="#3c584a"/>
<circle cx="64" cy="231.8" r="2.6" fill="#e6f3e8" opacity="0.85"/><circle cx="64" cy="231.8" r="1.35" fill="#5a8a6a"/><circle cx="64" cy="231.8" r="0.9" fill="#3c584a"/>
<circle cx="58.9" cy="237.1" r="2.6" fill="#e6f3e8" opacity="0.85"/><circle cx="58.9" cy="237.1" r="1.35" fill="#5a8a6a"/><circle cx="58.9" cy="237.1" r="0.9" fill="#3c584a"/>
<circle cx="51.4" cy="250.2" r="2.6" fill="#e6f3e8" opacity="0.85"/><circle cx="51.4" cy="250.2" r="1.35" fill="#5a8a6a"/><circle cx="51.4" cy="250.2" r="0.9" fill="#3c584a"/>
<circle cx="66.1" cy="234.5" r="2.6" fill="#e6f3e8" opacity="0.85"/><circle cx="66.1" cy="234.5" r="1.35" fill="#5a8a6a"/><circle cx="66.1" cy="234.5" r="0.9" fill="#3c584a"/>
<circle cx="68.1" cy="236.8" r="2.6" fill="#e6f3e8" opacity="0.85"/><circle cx="68.1" cy="236.8" r="1.35" fill="#5a8a6a"/><circle cx="68.1" cy="236.8" r="0.9" fill="#3c584a"/>
<circle cx="64.8" cy="227.5" r="2.6" fill="#fde8d0" opacity="0.85"/><circle cx="64.8" cy="227.5" r="1.35" fill="#d49050"/><circle cx="64.8" cy="227.5" r="0.9" fill="#7e6046"/>
<circle cx="71.3" cy="236.8" r="2.6" fill="#fde8d0" opacity="0.85"/><circle cx="71.3" cy="236.8" r="1.35" fill="#d49050"/><circle cx="71.3" cy="236.8" r="0.9" fill="#7e6046"/>
<circle cx="99.1" cy="238.8" r="2.6" fill="#fde8d0" opacity="0.85"/><circle cx="99.1" cy="238.8" r="1.35" fill="#d49050"/><circle cx="99.1" cy="238.8" r="0.9" fill="#7e6046"/>
<circle cx="134.3" cy="236.3" r="2.6" fill="#fde8d0" opacity="0.85"/><circle cx="134.3" cy="236.3" r="1.35" fill="#d49050"/><circle cx="134.3" cy="236.3" r="0.9" fill="#7e6046"/>
<circle cx="78.4" cy="273.7" r="2.6" fill="#fde8d0" opacity="0.85"/><circle cx="78.4" cy="273.7" r="1.35" fill="#d49050"/><circle cx="78.4" cy="273.7" r="0.9" fill="#7e6046"/>
<text x="81" y="274.7" font-size="2.7" fill="#777" text-anchor="start" textLength="9.8" lengthAdjust="spacingAndGlyphs">Control</text>
<circle cx="95.5" cy="273.7" r="2.6" fill="#e6f3e8" opacity="0.85"/><circle cx="95.5" cy="273.7" r="1.35" fill="#5a8a6a"/><circle cx="95.5" cy="273.7" r="0.9" fill="#3c584a"/>
<text x="97.8" y="274.7" font-size="2.7" fill="#777" text-anchor="start" textLength="10.8" lengthAdjust="spacingAndGlyphs">Infected</text>
<text x="165.8" y="150.3" font-size="4.5" fill="#222" text-anchor="start" font-weight="bold">C</text>
<rect x="185.0" y="153.7" width="214.3" height="117.10000000000002" fill="#e0e0e0"/>
<line x1="185.0" x2="399.3" y1="258.42" y2="258.42" stroke="#e6e6e6" stroke-width="0.4"/>
<line x1="185.0" x2="399.3" y1="245.26" y2="245.26" stroke="#e6e6e6" stroke-width="0.4"/>
<line x1="185.0" x2="399.3" y1="232.10" y2="232.10" stroke="#e6e6e6" stroke-width="0.4"/>
<line x1="185.0" x2="399.3" y1="218.94" y2="218.94" stroke="#e6e6e6" stroke-width="0.4"/>
<line x1="185.0" x2="399.3" y1="205.78" y2="205.78" stroke="#e6e6e6" stroke-width="0.4"/>
<line x1="185.0" x2="399.3" y1="192.62" y2="192.62" stroke="#e6e6e6" stroke-width="0.4"/>
<line x1="185.0" x2="399.3" y1="179.46" y2="179.46" stroke="#e6e6e6" stroke-width="0.4"/>
<line x1="185.0" x2="399.3" y1="166.30" y2="166.30" stroke="#e6e6e6" stroke-width="0.4"/>
<line x1="185.0" x2="399.3" y1="265.00" y2="265.00" stroke="#ececec" stroke-width="0.7"/>
<line x1="183.5" x2="185.0" y1="265.00" y2="265.00" stroke="#444" stroke-width="0.4"/>
<text x="182.3" y="266.25" font-size="3.5" fill="#6a6a6a" text-anchor="end" >0</text>
<line x1="185.0" x2="399.3" y1="251.84" y2="251.84" stroke="#ececec" stroke-width="0.7"/>
<line x1="183.5" x2="185.0" y1="251.84" y2="251.84" stroke="#444" stroke-width="0.4"/>
<text x="182.3" y="253.09" font-size="3.5" fill="#6a6a6a" text-anchor="end" >20</text>
<line x1="185.0" x2="399.3" y1="238.68" y2="238.68" stroke="#ececec" stroke-width="0.7"/>
<line x1="183.5" x2="185.0" y1="238.68" y2="238.68" stroke="#444" stroke-width="0.4"/>
<text x="182.3" y="239.93" font-size="3.5" fill="#6a6a6a" text-anchor="end" >40</text>
<line x1="185.0" x2="399.3" y1="225.52" y2="225.52" stroke="#ececec" stroke-width="0.7"/>
<line x1="183.5" x2="185.0" y1="225.52" y2="225.52" stroke="#444" stroke-width="0.4"/>
<text x="182.3" y="226.76999999999998" font-size="3.5" fill="#6a6a6a" text-anchor="end" >60</text>
<line x1="185.0" x2="399.3" y1="212.36" y2="212.36" stroke="#ececec" stroke-width="0.7"/>
<line x1="183.5" x2="185.0" y1="212.36" y2="212.36" stroke="#444" stroke-width="0.4"/>
<text x="182.3" y="213.61" font-size="3.5" fill="#6a6a6a" text-anchor="end" >80</text>
<line x1="185.0" x2="399.3" y1="199.20" y2="199.20" stroke="#ececec" stroke-width="0.7"/>
<line x1="183.5" x2="185.0" y1="199.20" y2="199.20" stroke="#444" stroke-width="0.4"/>
<text x="182.3" y="200.45" font-size="3.5" fill="#6a6a6a" text-anchor="end" >100</text>
<line x1="185.0" x2="399.3" y1="186.04" y2="186.04" stroke="#ececec" stroke-width="0.7"/>
<line x1="183.5" x2="185.0" y1="186.04" y2="186.04" stroke="#444" stroke-width="0.4"/>
<text x="182.3" y="187.29" font-size="3.5" fill="#6a6a6a" text-anchor="end" >120</text>
<line x1="185.0" x2="399.3" y1="172.88" y2="172.88" stroke="#ececec" stroke-width="0.7"/>
<line x1="183.5" x2="185.0" y1="172.88" y2="172.88" stroke="#444" stroke-width="0.4"/>
<text x="182.3" y="174.13" font-size="3.5" fill="#6a6a6a" text-anchor="end" >140</text>
<line x1="185.0" x2="399.3" y1="159.72" y2="159.72" stroke="#ececec" stroke-width="0.7"/>
<line x1="183.5" x2="185.0" y1="159.72" y2="159.72" stroke="#444" stroke-width="0.4"/>
<text x="182.3" y="160.97" font-size="3.5" fill="#6a6a6a" text-anchor="end" >160</text>
<line x1="202.2" x2="202.2" y1="153.7" y2="270.8" stroke="#ececec" stroke-width="0.7"/>
<line x1="202.2" x2="202.2" y1="270.8" y2="272.3" stroke="#444" stroke-width="0.4"/>
<line x1="262.1" x2="262.1" y1="153.7" y2="270.8" stroke="#ececec" stroke-width="0.7"/>
<line x1="262.1" x2="262.1" y1="270.8" y2="272.3" stroke="#444" stroke-width="0.4"/>
<line x1="322.2" x2="322.2" y1="153.7" y2="270.8" stroke="#ececec" stroke-width="0.7"/>
<line x1="322.2" x2="322.2" y1="270.8" y2="272.3" stroke="#444" stroke-width="0.4"/>
<line x1="382.1" x2="382.1" y1="153.7" y2="270.8" stroke="#ececec" stroke-width="0.7"/>
<line x1="382.1" x2="382.1" y1="270.8" y2="272.3" stroke="#444" stroke-width="0.4"/>
<text x="201.89999999999998" y="275.6" font-size="4.35" fill="#555563" text-anchor="middle" >Young-adult com. (n=6)</text>
<text x="261.8" y="275.6" font-size="4.35" fill="#555563" text-anchor="middle" >Lm-Young adult (n=6)</text>
<text x="321.9" y="275.6" font-size="4.35" fill="#555563" text-anchor="middle" >Old com. (n=5)</text>
<text x="381.8" y="275.6" font-size="4.35" fill="#555563" text-anchor="middle" >Lm-Old (n=5)</text>
<text x="0" y="0" font-size="4.1" fill="#5c5c78" text-anchor="middle" transform="translate(175.3,212.2) rotate(-90)">Alpha Diversity</text>
<rect x="201.25" y="222.75" width="1.9" height="1.5" fill="#111"/>
<rect x="201.25" y="225.55" width="1.9" height="1.5" fill="#111"/>
<rect x="201.25" y="228.75" width="1.9" height="1.5" fill="#111"/>
<rect x="201.25" y="230.45" width="1.9" height="1.5" fill="#111"/>
<rect x="201.25" y="235.55" width="1.9" height="1.5" fill="#111"/>
<rect x="201.25" y="238.55" width="1.9" height="1.5" fill="#111"/>
<rect x="261.15" y="216.15" width="1.9" height="1.5" fill="#111"/>
<rect x="261.15" y="225.25" width="1.9" height="1.5" fill="#111"/>
<rect x="261.15" y="226.45" width="1.9" height="1.5" fill="#111"/>
<rect x="261.15" y="227.65" width="1.9" height="1.5" fill="#111"/>
<rect x="261.15" y="228.85" width="1.9" height="1.5" fill="#111"/>
<rect x="261.15" y="229.65" width="1.9" height="1.5" fill="#111"/>
<rect x="321.25" y="169.85" width="1.9" height="1.5" fill="#111"/>
<rect x="321.25" y="194.15" width="1.9" height="1.5" fill="#111"/>
<rect x="321.25" y="218.15" width="1.9" height="1.5" fill="#111"/>
<rect x="321.25" y="222.35" width="1.9" height="1.5" fill="#111"/>
<rect x="321.25" y="236.85" width="1.9" height="1.5" fill="#111"/>
<rect x="381.15" y="181.05" width="1.9" height="1.5" fill="#111"/>
<rect x="381.15" y="218.65" width="1.9" height="1.5" fill="#111"/>
<rect x="381.15" y="219.85" width="1.9" height="1.5" fill="#111"/>
<rect x="381.15" y="221.05" width="1.9" height="1.5" fill="#111"/>
<rect x="381.15" y="224.05" width="1.9" height="1.5" fill="#111"/>
</svg>
</body></html>
